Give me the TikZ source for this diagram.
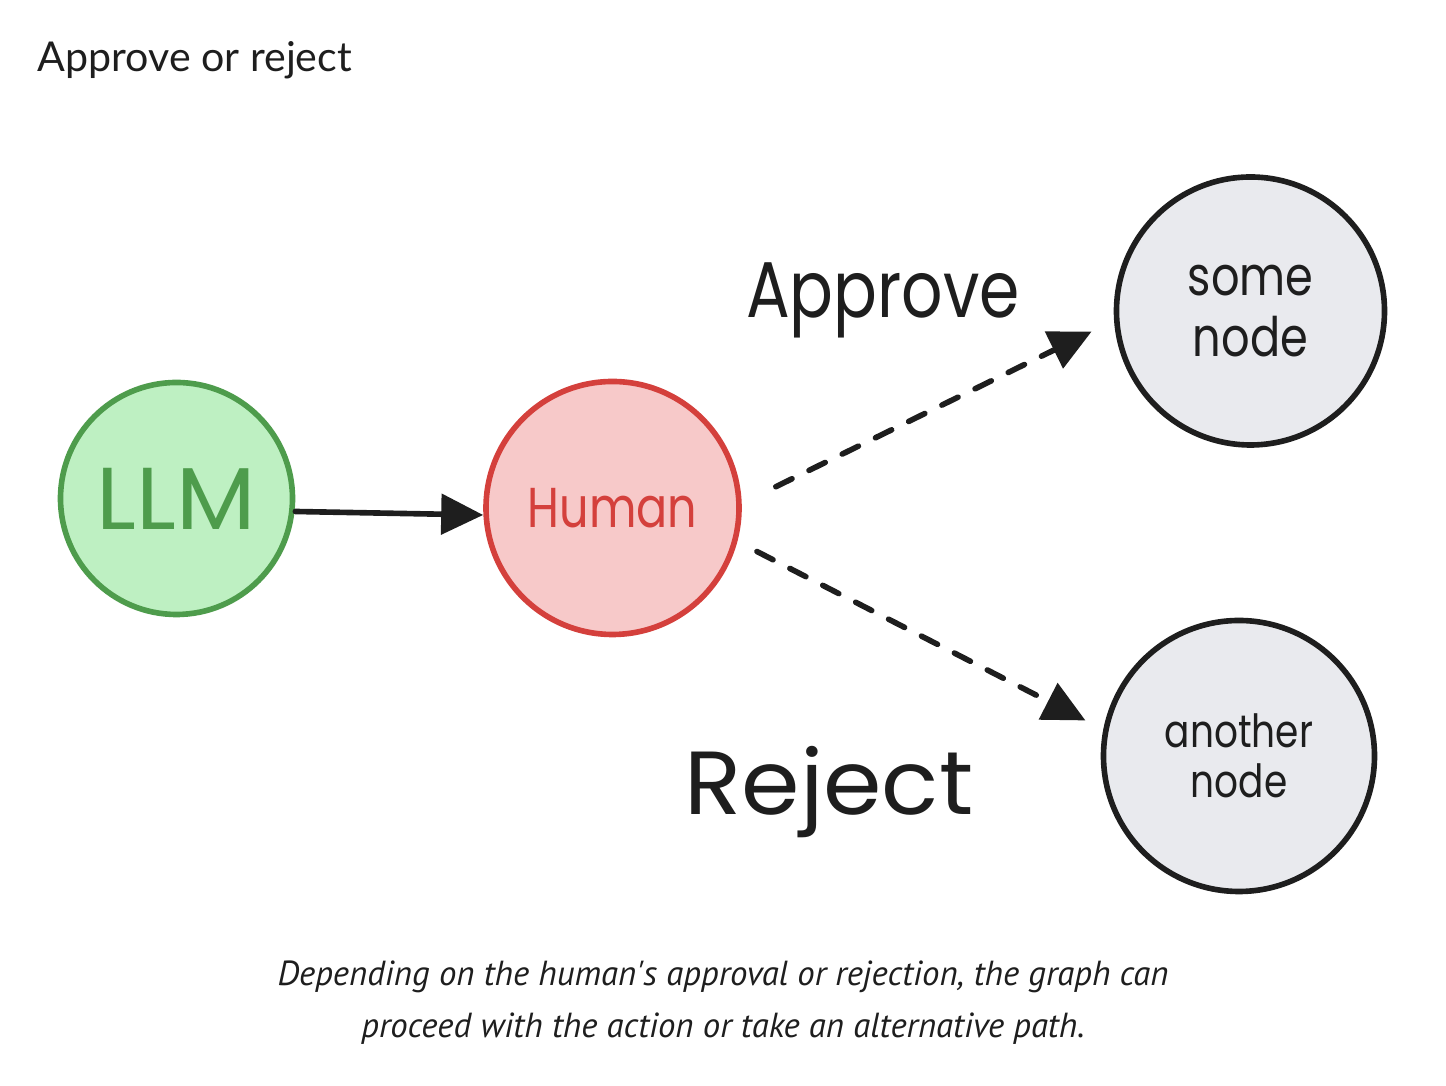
\documentclass[tikz,border=0pt]{standalone}
\usepackage{fontspec}
\setmainfont{Lato}
\newfontfamily\handfont[FakeStretch=0.82]{Poppins}
\newfontfamily\handwide[FakeStretch=1.05]{Poppins}
\newfontfamily\capfont{PT Sans}
\usetikzlibrary{arrows.meta}
\definecolor{inkcol}{RGB}{30,30,30}
\definecolor{llmfill}{RGB}{190,240,194}
\definecolor{llmline}{RGB}{78,156,76}
\definecolor{humanfill}{RGB}{247,201,201}
\definecolor{humanline}{RGB}{212,64,60}
\definecolor{nodefill}{RGB}{233,234,238}

\begin{document}
\begin{tikzpicture}[
    bubble/.style={circle, line width=1.6pt, inner sep=0pt, align=center},
    flow/.style={draw=inkcol, line width=1.6pt, line cap=round,
        -{Triangle[length=4.2mm,width=4mm]}},
    maybe/.style={flow, dash pattern=on 1.8mm off 1.9mm}
]
    \useasboundingbox (0,0) rectangle (14.46,10.86);

    % Title and caption
    \node[anchor=base west, inner sep=0pt, text=inkcol, font=\fontsize{11.7}{14}\selectfont]
        (title) at (0.37,10.14) {Approve or reject};
    \node[align=center, text=inkcol, font=\capfont\itshape\fontsize{9.9}{14.8}\selectfont]
        (caption) at (7.23,0.83)
        {Depending on the human's approval or rejection, the graph can\\
         proceed with the action or take an alternative path.};

    % The four states
    \node[bubble, fill=llmfill, draw=llmline, text=llmline, minimum size=2.32cm,
        font=\handwide\fontsize{25}{25}\selectfont] (LLM) at (1.765,5.875) {LLM};
    \node[bubble, fill=humanfill, draw=humanline, text=humanline, minimum size=2.53cm,
        font=\handfont\fontsize{16}{16}\selectfont] (Human) at (6.125,5.78) {Human};
    \node[bubble, fill=nodefill, draw=inkcol, text=inkcol, minimum size=2.68cm,
        font=\handfont\fontsize{15.5}{17.6}\selectfont] (some) at (12.505,7.75) {some\\node};
    \node[bubble, fill=nodefill, draw=inkcol, text=inkcol, minimum size=2.71cm,
        font=\handfont\fontsize{13}{14.2}\selectfont] (another) at (12.39,3.30) {another\\node};

    % Edges
    \draw[flow] ([yshift=-1.3mm]LLM.east) -- ([yshift=-0.7mm]Human.west);
    \draw[maybe, shorten <=3.8mm, shorten >=2.5mm] (Human.2) -- (some.184);
    \draw[maybe, shorten <=2.2mm, shorten >=2mm] (Human.-15) -- (another.169);

    % Edge labels
    \node[anchor=base, text=inkcol, font=\handfont\fontsize{22.5}{22.5}\selectfont]
        (approve) at (8.83,7.68) {Approve};
    \node[anchor=base, text=inkcol, font=\handwide\fontsize{25.5}{25.5}\selectfont]
        (reject) at (8.29,2.71) {Reject};
\end{tikzpicture}
\end{document}
